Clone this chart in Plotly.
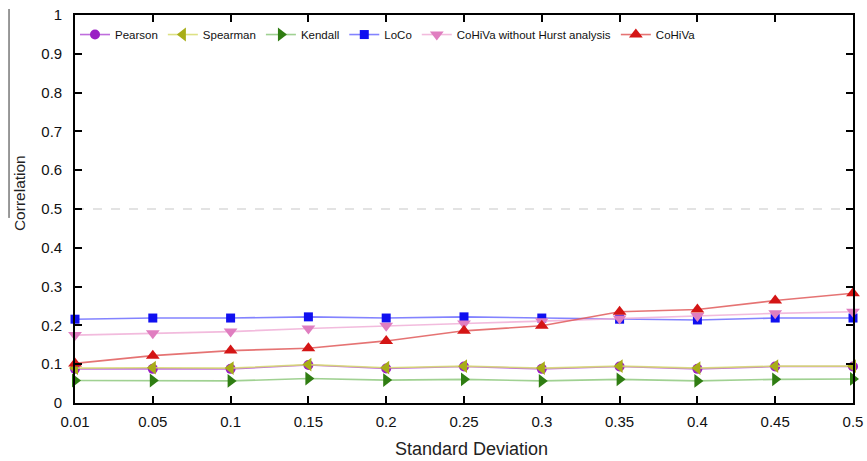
import plotly.graph_objects as go

# Noise level (standard deviation) on the x axis
std_dev = ["0.01", "0.05", "0.1", "0.15", "0.2", "0.25", "0.3", "0.35", "0.4", "0.45", "0.5"]

# Correlation measured by each method
pearson = [0.088, 0.088, 0.088, 0.098, 0.089, 0.094, 0.088, 0.094, 0.088, 0.094, 0.094]
spearman = [0.090, 0.091, 0.090, 0.099, 0.091, 0.095, 0.090, 0.095, 0.090, 0.095, 0.095]
kendall = [0.058, 0.058, 0.057, 0.063, 0.059, 0.061, 0.057, 0.061, 0.057, 0.061, 0.062]
loco = [0.216, 0.219, 0.219, 0.222, 0.219, 0.222, 0.219, 0.216, 0.214, 0.219, 0.219]
cohiva_no_hurst = [0.175, 0.180, 0.184, 0.192, 0.199, 0.205, 0.211, 0.218, 0.224, 0.231, 0.235]
cohiva = [0.102, 0.122, 0.135, 0.141, 0.160, 0.186, 0.199, 0.235, 0.241, 0.264, 0.283]

series = [
    ("Pearson", pearson, "#9a1fc4", "rgba(170,60,210,0.75)", "circle", 10),
    ("Spearman", spearman, "#a8ad18", "rgba(215,220,110,0.85)", "triangle-left", 12),
    ("Kendall", kendall, "#2f7d12", "rgba(120,190,100,0.7)", "triangle-right", 12),
    ("LoCo", loco, "#1010f0", "rgba(90,90,255,0.75)", "square", 9),
    ("CoHiVa without Hurst analysis", cohiva_no_hurst, "#e07ec0", "rgba(240,175,215,0.85)", "triangle-down", 12),
    ("CoHiVa", cohiva, "#d41515", "rgba(225,90,90,0.85)", "triangle-up", 12),
]

fig = go.Figure()
for name, vals, mcol, lcol, sym, size in series:
    fig.add_trace(go.Scatter(
        x=std_dev, y=vals, name=name, mode="lines+markers",
        line=dict(color=lcol, width=1.6),
        marker=dict(color=mcol, symbol=sym, size=size, line=dict(width=0)),
        cliponaxis=False,
    ))

# Reference level at 0.5
fig.add_shape(type="line", xref="paper", yref="y", x0=0, x1=1, y0=0.5, y1=0.5,
              line=dict(color="#c8c8c8", width=1.2, dash="dash"), layer="below")

# Rule beside the y-axis title
fig.add_shape(type="line", xref="paper", yref="paper", x0=-0.0848, x1=-0.0848,
              y0=1.0155, y1=0.477, line=dict(color="#333333", width=1))

fig.add_annotation(text="Correlation", xref="paper", yref="paper", x=-0.072, y=0.541,
                   xanchor="center", yanchor="middle",
                   textangle=-90, showarrow=False, font=dict(size=15.5, color="#222222"))

fig.add_annotation(text="Standard Deviation", xref="paper", yref="paper", x=0.51, y=-0.1495,
                   xanchor="center", yanchor="bottom",
                   showarrow=False, font=dict(size=18, color="#222222"))

axis_common = dict(
    showline=True, linecolor="black", linewidth=1.6, mirror="ticks",
    ticks="inside", ticklen=7, tickwidth=1.5, tickcolor="black",
    showgrid=False, zeroline=False, automargin=False,
    tickfont=dict(size=15, color="#111111"),
)

fig.update_layout(
    width=867, height=461,
    margin=dict(l=75, r=14, t=15, b=58),
    paper_bgcolor="white", plot_bgcolor="white",
    font=dict(family="Liberation Sans, Arial, sans-serif", color="#111111"),
    xaxis=dict(type="category", range=[0, 10], ticklabelstandoff=4, **axis_common),
    yaxis=dict(range=[0, 1], dtick=0.1, tickformat="~g", ticklabelstandoff=8,
               **axis_common),
    legend=dict(orientation="h", x=0.0, xanchor="left", y=0.987, yanchor="top",
                font=dict(size=11.5, color="#111111"),
                itemwidth=30, tracegroupgap=0, bgcolor="rgba(0,0,0,0)"),
    showlegend=True,
)

fig.write_html("out.html")
